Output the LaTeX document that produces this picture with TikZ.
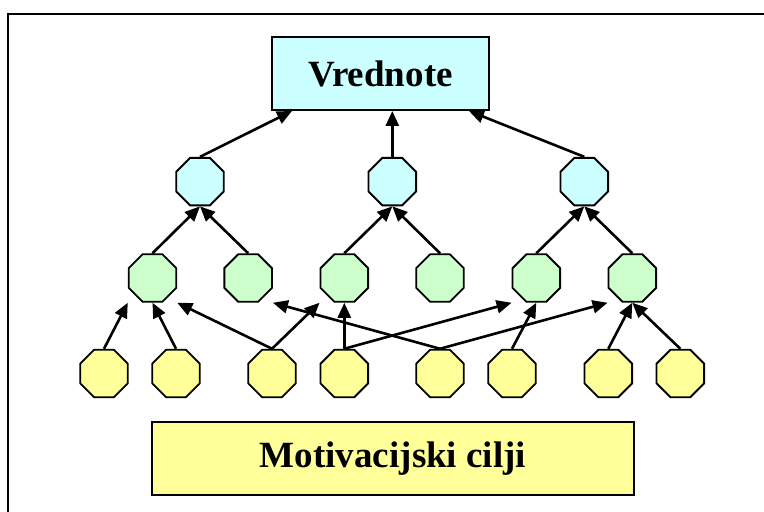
\documentclass[tikz,border=0pt]{standalone}
\usepackage{fontspec}
\setmainfont{Liberation Serif}
\usetikzlibrary{shapes.geometric,arrows.meta}

\definecolor{modra}{RGB}{204,255,255}
\definecolor{zelena}{RGB}{204,255,204}
\definecolor{rumena}{RGB}{255,255,153}

\begin{document}
\begin{tikzpicture}[x=1pt, y=-1pt,
        oktagon/.style={regular polygon, regular polygon sides=8, draw, line width=1.9pt,
            minimum size=51.5pt, inner sep=0pt},
        okvir/.style={draw, line width=1.9pt, inner sep=0pt,
            font=\fontsize{37}{40}\selectfont\bfseries},
        puscica/.style={line width=2.6pt, -{Triangle[length=15pt, width=13pt]}}]
    \useasboundingbox (0, 0) rectangle (764, 512);
    \clip (0, 0) rectangle (764, 512);
    \draw[line width=2.2pt] (7.7, 14) rectangle (800, 560);

    \node[okvir, fill=modra, minimum width=217pt, minimum height=73pt] (vrednote) at (380.5, 73.5) {Vrednote};
    \node[okvir, fill=rumena, minimum width=482pt, minimum height=73pt] (cilji) at (393, 458.4) {Motivacijski cilji};

    % three levels of octagons
    \foreach \x [count=\i] in {200, 392.3, 584.3}
        \node[oktagon, fill=modra] (b\i) at (\x, 181.6) {};
    \foreach \x [count=\i] in {152.5, 248.2, 344.3, 440, 536.3, 632.3}
        \node[oktagon, fill=zelena] (g\i) at (\x, 278) {};
    \foreach \x [count=\i] in {104, 176, 272, 344.3, 440, 512, 608.3, 680.3}
        \node[oktagon, fill=rumena] (y\i) at (\x, 373.5) {};

    % up to the box
    \draw[puscica] (b1.north) -- ([xshift=21pt]vrednote.south west);
    \draw[puscica] (b2.north) -- (b2 |- vrednote.south);
    \draw[puscica] (b3.north) -- ([xshift=-21pt]vrednote.south east);

    \foreach \a/\b in {g1/b1, g2/b1, g3/b2, g4/b2, g5/b3, g6/b3}
        \draw[puscica] (\a.north) -- (\b.south);

    \foreach \a/\b in {y1/g1.south -| g1.west, y2/g1.south, y3/g1.south -| g1.east,
            y3/g3.south -| g3.west, y4/g3.south, y4/g5.south -| g5.west,
            y5/g2.south -| g2.east, y5/g6.south -| g6.west, y6/g5.south,
            y7/g6.south, y8/g6.south}
        \draw[puscica] (\a.north) -- (\b);
\end{tikzpicture}
\end{document}
